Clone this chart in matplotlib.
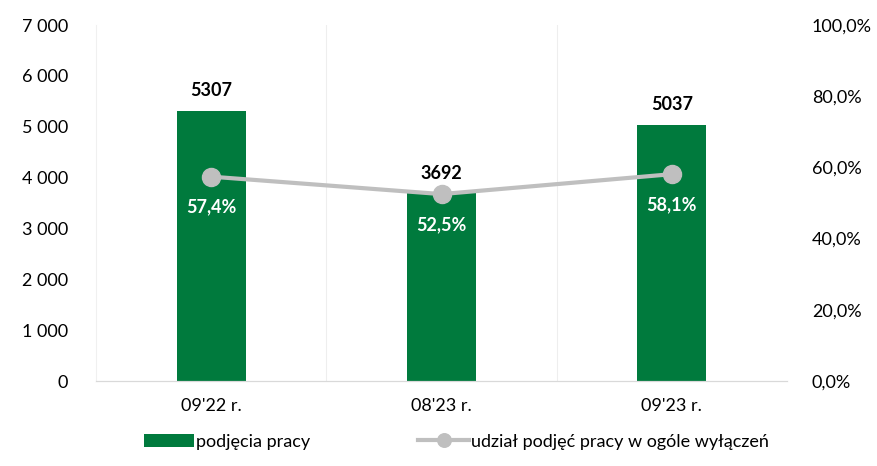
import numpy as np
import matplotlib.pyplot as plt
from matplotlib.ticker import FuncFormatter

# data
categories = ["09'22 r.", "08'23 r.", "09'23 r."]
podjecia = [5307, 3692, 5037]
udzial = [57.4, 52.5, 58.1]

plt.rcParams['font.family'] = ['Lato', 'DejaVu Sans']

fig = plt.figure(figsize=(8.77, 4.66), dpi=100)
ax = fig.add_axes([96 / 877, 1 - 381 / 466, (787 - 96) / 877, (381 - 25) / 466])
ax2 = ax.twinx()

x = np.arange(len(categories))
green = '#007A3D'
bars = ax.bar(x, podjecia, width=0.30, color=green, label='podjęcia pracy', zorder=2)

ax.set_xlim(-0.5, len(categories) - 0.5)
ax.set_ylim(0, 7000)
ax.set_yticks(np.arange(0, 7001, 1000))
ax.yaxis.set_major_formatter(FuncFormatter(lambda v, p: f'{int(v):,}'.replace(',', ' ')))
ax.set_xticks(x)
ax.set_xticklabels(categories)

# faint vertical separators between categories
for b in np.arange(0.5, len(categories) - 0.5, 1):
    ax.axvline(b, color='#EEEEEE', lw=0.8, zorder=0)

for b, v in zip(bars, podjecia):
    ax.text(b.get_x() + b.get_width() / 2, v + 230, str(v), ha='center', va='bottom',
            fontsize=13, fontweight='bold', color='black')

line, = ax2.plot(x, udzial, color='#BFBFBF', lw=3, marker='o', markersize=13,
                 label='udział podjęć pracy w ogóle wyłączeń', zorder=3)
ax2.set_ylim(0, 100)
ax2.set_yticks(np.arange(0, 101, 20))
ax2.yaxis.set_major_formatter(FuncFormatter(lambda v, p: f'{v:.1f}%'.replace('.', ',')))

for xi, v in zip(x, udzial):
    ax2.text(xi, v - 8.5, f'{v:.1f}%'.replace('.', ','), ha='center', va='center',
             fontsize=13, fontweight='bold', color='white')

for a in (ax, ax2):
    for s in ('top', 'right', 'left'):
        a.spines[s].set_visible(False)
    a.spines['bottom'].set_color('#D9D9D9')
    a.tick_params(length=0, labelsize=13, colors='black')
ax.spines['left'].set_visible(True)
ax.spines['left'].set_color('#F0F0F0')
ax.tick_params(axis='y', pad=20)
ax.tick_params(axis='x', pad=12)
ax2.tick_params(axis='y', pad=18)

fig.legend(handles=[bars, line], loc='lower center', bbox_to_anchor=(0.52, 0.0),
           ncol=2, frameon=False, fontsize=13, columnspacing=6, handlelength=2.8,
           handletextpad=0.1, markerscale=0.75)

fig.savefig('out.png', dpi=100)
